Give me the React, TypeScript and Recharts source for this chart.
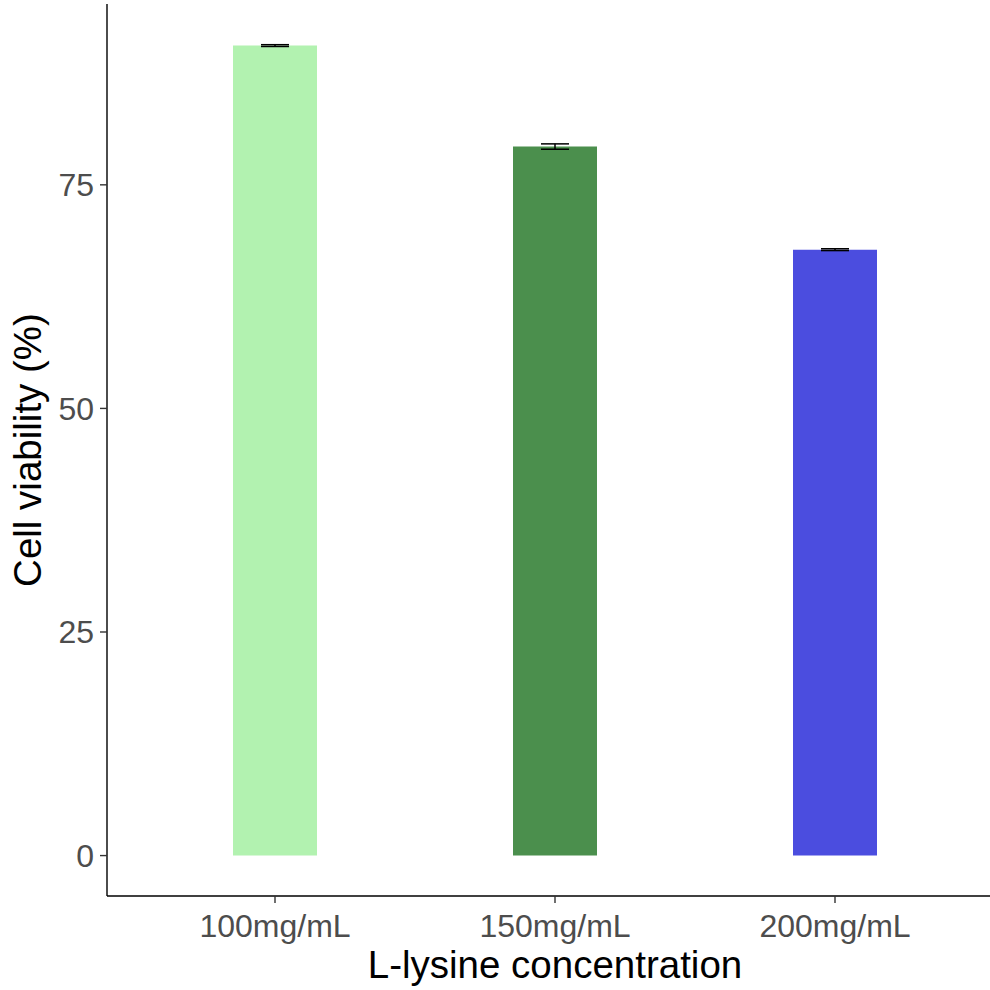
import React from "react";
import { BarChart, Bar, XAxis, YAxis, ErrorBar, Cell } from "recharts";

const categories = ["100mg/mL", "150mg/mL", "200mg/mL"];
const viability = [90.57, 79.28, 67.75];
const errors = [0.1, 0.3, 0.1];
const barColors = ["#b2f2b0", "#4b8f4d", "#4b4ddf"];
const yTicks = [0, 25, 50, 75];

const data = categories.map((c, i) => ({ name: c, value: viability[i], err: errors[i] }));

const FONT = "'Liberation Sans', Arial, sans-serif";

export default function App() {
  return (
    <div
      style={{
        position: "absolute",
        left: 0,
        top: 0,
        width: 990,
        height: 990,
        overflow: "hidden",
        background: "#fff",
      }}
    >
      <BarChart
        width={1003}
        height={990}
        data={data}
        margin={{ top: 4, right: 0, bottom: 0, left: 0 }}
        barCategoryGap={0}
      >
        <XAxis
          dataKey="name"
          height={94}
          padding={{ left: 28, right: 28 }}
          tickSize={7}
          tickMargin={11}
          axisLine={{ stroke: "#000", strokeWidth: 1.4 }}
          tickLine={{ stroke: "#333", strokeWidth: 1.4 }}
          tick={{ fill: "#4d4d4d", fontSize: 32, fontFamily: FONT }}
          label={{
            value: "L-lysine concentration",
            position: "insideBottom",
            offset: 12,
            fill: "#000",
            fontSize: 38.5,
            fontFamily: FONT,
          }}
        />
        <YAxis
          type="number"
          width={107}
          domain={[-4.52, 95.22]}
          ticks={yTicks}
          allowDataOverflow
          tickSize={7}
          tickMargin={6}
          axisLine={{ stroke: "#000", strokeWidth: 1.4 }}
          tickLine={{ stroke: "#333", strokeWidth: 1.4 }}
          tick={{ fill: "#4d4d4d", fontSize: 32, fontFamily: FONT }}
          label={{
            value: "Cell viability (%)",
            angle: -90,
            position: "center",
            dx: -26,
            fill: "#000",
            fontSize: 38.5,
            fontFamily: FONT,
          }}
        />
        <Bar dataKey="value" barSize={84} isAnimationActive={false}>
          {data.map((d, i) => (
            <Cell key={d.name} fill={barColors[i]} />
          ))}
          <ErrorBar dataKey="err" width={14} stroke="#000" strokeWidth={1.5} isAnimationActive={false} />
        </Bar>
      </BarChart>
    </div>
  );
}
